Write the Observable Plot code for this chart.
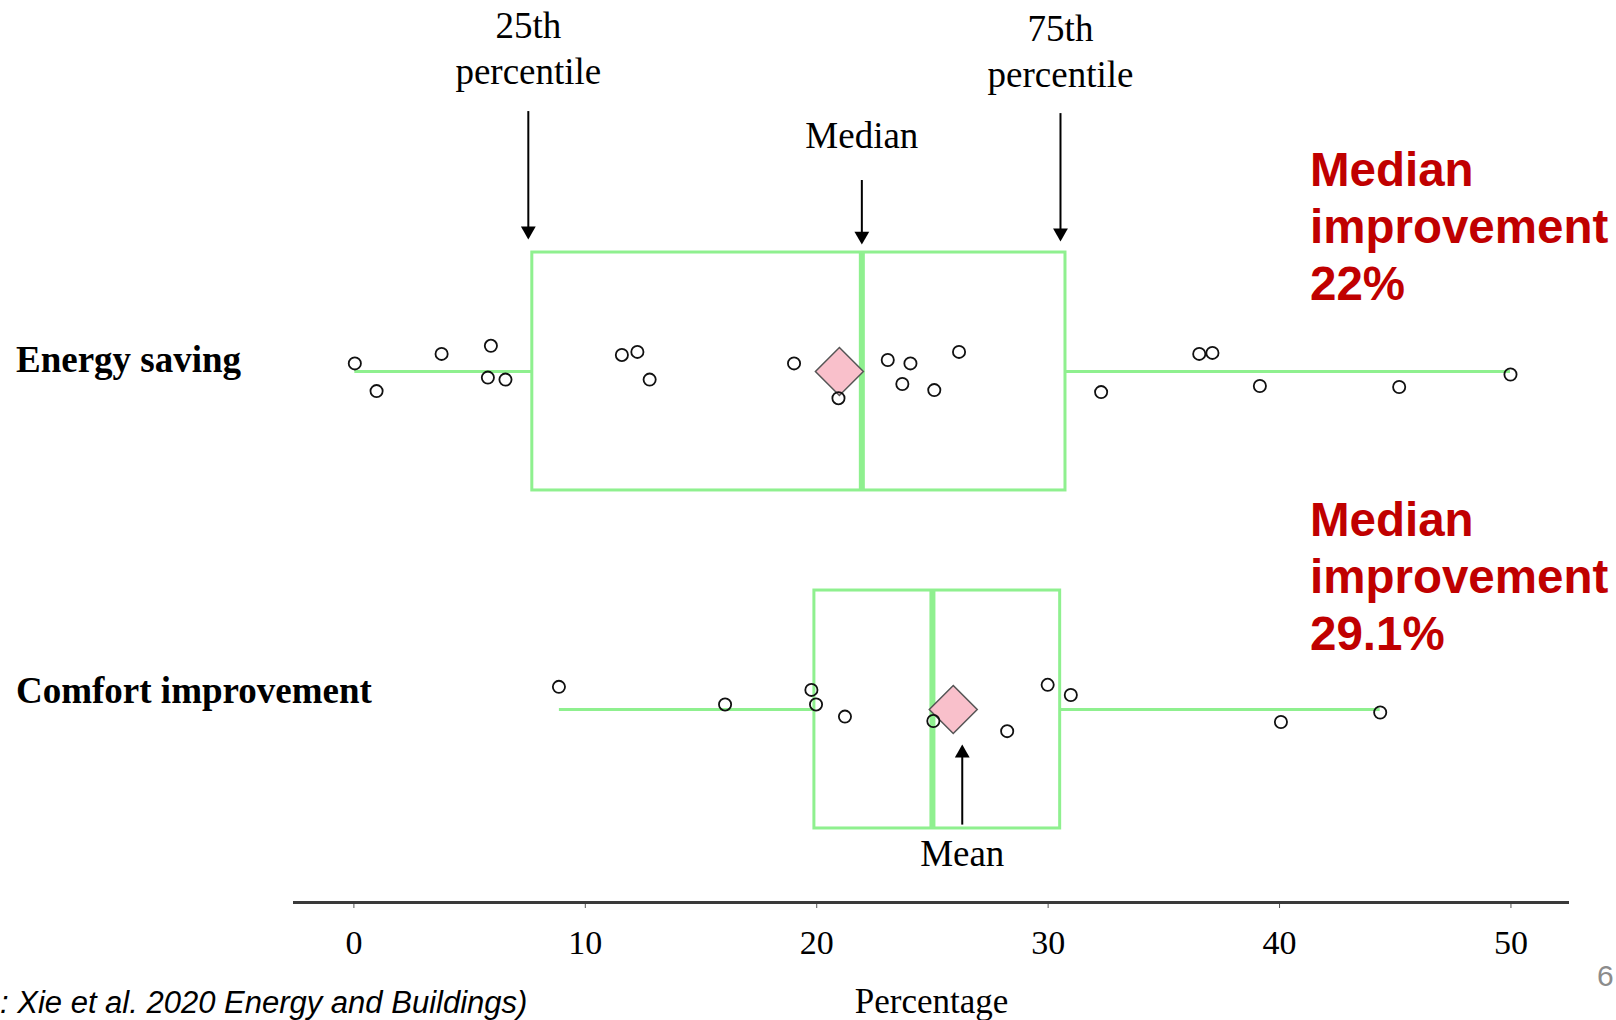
<!DOCTYPE html>
<html>
<head>
<meta charset="utf-8">
<script src="https://cdn.jsdelivr.net/npm/d3@7"></script>
<script src="https://cdn.jsdelivr.net/npm/@observablehq/plot@0.6"></script>
<style>
  html, body { margin: 0; padding: 0; background: #fff; overflow: hidden; }
  #wrap { position: relative; width: 1616px; height: 1020px; }
  #wrap svg { position: absolute; left: 0; top: 0; }
  .red { position: absolute; left: 1310px; font-family: "Liberation Sans", Arial, sans-serif; font-weight: bold;
         font-size: 47.5px; line-height: 57px; color: #c00000; white-space: nowrap; }
  .caption { position: absolute; left: 0px; top: 985px; font-family: "Liberation Sans", Arial, sans-serif;
             font-style: italic; font-size: 31px; line-height: 36px; color: #000; white-space: nowrap; }
  .pagenum { position: absolute; left: 1597px; top: 958px; font-family: "Liberation Sans", Arial, sans-serif;
             font-size: 30px; line-height: 36px; color: #8c8c8c; }
</style>
</head>
<body>
<div id="wrap"></div>
<script>
// ---------- data ----------
const categories = ["Energy saving", "Comfort improvement"];
const energyValues = [0.04, 0.98, 3.79, 5.92, 5.79, 6.55, 11.58, 12.25, 12.78, 19.02, 20.94,
                      23.07, 24.05, 23.70, 25.08, 26.15, 32.29, 36.53, 37.10, 39.15, 45.17, 49.98];
const energyJitter = [-0.024, 0.058, -0.052, -0.076, 0.018, 0.024, -0.049, -0.058, 0.024, -0.024, 0.079,
                      -0.034, -0.024, 0.037, 0.055, -0.058, 0.061, -0.052, -0.055, 0.043, 0.046, 0.009];
const comfortValues = [8.86, 16.04, 19.77, 19.97, 21.22, 25.04, 28.23, 29.98, 30.98, 40.06, 44.35];
const comfortJitter = [-0.067, -0.015, -0.058, -0.015, 0.021, 0.034, 0.064, -0.073, -0.043, 0.037, 0.009];
const q1 = [7.71, 19.90];
const medians = [21.95, 25.00];
const q3 = [30.75, 30.52];
const means = [20.98, 25.90];
const whiskerLow = [0.04, 8.88];
const whiskerHigh = [49.98, 44.35];
const xTicks = [0, 10, 20, 30, 40, 50];
const xLabel = "Percentage";
const annotationLabels = ["25th\npercentile", "Median", "75th\npercentile", "Mean"];
const sideNotes = ["Median\nimprovement\n22%", "Median\nimprovement\n29.1%"];
const captionText = ": Xie et al. 2020 Energy and Buildings)";
const pageNumber = "6";

// ---------- derived tables ----------
const rows = categories.map((name, i) => ({
  name, i, q1: q1[i], median: medians[i], q3: q3[i], mean: means[i], lo: whiskerLow[i], hi: whiskerHigh[i]
}));
const points = [
  ...energyValues.map((v, j) => ({ value: v, row: 0 + energyJitter[j] })),
  ...comfortValues.map((v, j) => ({ value: v, row: 1 + comfortJitter[j] }))
];

// ---------- styling ----------
const BOX = 0.352;           // half box height (row units)
const GREEN = "#8ff08f";
const SERIF = '"Liberation Serif", "Times New Roman", Times, serif';
const yDomain = [1.571, -1.0976];
const TIP = 8.5;             // triangle tip offset in px
const LIFT = 0.009;          // small upward nudge for annotation labels

function annotation(x, dx, textY, label, yStart, yTip, down) {
  const gap = 0.02;
  return [
    Plot.text([label], { x: () => x, y: () => textY - LIFT, text: d => d, dx, fontSize: 37, lineHeight: 1.24,
                         fontFamily: SERIF, fill: "#000" }),
    Plot.ruleX([x], { x: d => d, y1: () => yStart, y2: () => (down ? yTip - gap : yTip + gap), dx,
                      stroke: "#000", strokeWidth: 2 }),
    Plot.dot([x], { x: d => d, y: () => yTip, dx, dy: down ? -TIP : TIP, symbol: "triangle",
                    rotate: down ? 180 : 0, r: 5.5, fill: "#000", stroke: "none" })
  ];
}

const chart = Plot.plot({
  width: 1616,
  height: 1020,
  marginLeft: 293,
  marginRight: 47,
  marginTop: 0,
  marginBottom: 118,
  style: { fontFamily: SERIF, background: "transparent", color: "#000", overflow: "visible" },
  x: { domain: [-2.61, 52.53] },
  y: { domain: yDomain, axis: null },
  marks: [
    Plot.axisX({ ticks: xTicks, tickSize: 6, tickPadding: 21, fontSize: 34, stroke: "#555",
                 tickFormat: d => String(d), label: null, fontFamily: SERIF }),
    Plot.ruleY([yDomain[0]], { stroke: "#3a3a3a", strokeWidth: 3 }),
    Plot.text([xLabel], { frameAnchor: "bottom", dy: 110, fontSize: 35, fontFamily: SERIF }),
    Plot.text(rows.filter(d => d.i === 0), { frameAnchor: "left", y: "i", text: "name", textAnchor: "start",
                      dx: -277.5, dy: -11, fontSize: 37, fontWeight: "bold", fontFamily: SERIF }),
    Plot.text(rows.filter(d => d.i === 1), { frameAnchor: "left", y: "i", text: "name", textAnchor: "start",
                      dx: -277.5, dy: -18, fontSize: 37, fontWeight: "bold", fontFamily: SERIF }),
    // boxes
    Plot.rect(rows, { x1: "q1", x2: "q3", y1: d => d.i - BOX, y2: d => d.i + BOX,
                      fill: "none", stroke: GREEN, strokeWidth: 3 }),
    Plot.ruleY(rows, { y: "i", x1: "lo", x2: "q1", stroke: GREEN, strokeWidth: 3 }),
    Plot.ruleY(rows, { y: "i", x1: "q3", x2: "hi", stroke: GREEN, strokeWidth: 3 }),
    Plot.ruleX(rows, { x: "median", y1: d => d.i - BOX, y2: d => d.i + BOX, stroke: GREEN, strokeWidth: 6 }),
    // means
    Plot.dot(rows, { x: "mean", y: "i", symbol: "diamond2", r: 21.6, fill: "#f9c0cb", stroke: "#555", strokeWidth: 1.5 }),
    // observations
    Plot.dot(points, { x: "value", y: "row", r: 6.1, fill: "none", stroke: "#111", strokeWidth: 1.8 }),
    // annotations
    ...annotation(q1[0], -4, -0.953, annotationLabels[0], -0.769, -0.391, true),
    ...annotation(medians[0], 0, -0.695, annotationLabels[1], -0.565, -0.376, true),
    ...annotation(q3[0], -5, -0.945, annotationLabels[2], -0.763, -0.385, true),
    ...annotation(means[1], 9, 1.429, annotationLabels[3], 1.342, 1.104, false)
  ]
});

const wrap = document.getElementById("wrap");
wrap.appendChild(chart);

const noteTops = [141, 491];
sideNotes.forEach((t, k) => {
  const d = document.createElement("div");
  d.className = "red";
  d.style.top = noteTops[k] + "px";
  d.innerHTML = t.split("\n").map(s => `<div>${s}</div>`).join("");
  wrap.appendChild(d);
});
const cap = document.createElement("div");
cap.className = "caption";
cap.textContent = captionText;
wrap.appendChild(cap);
const pn = document.createElement("div");
pn.className = "pagenum";
pn.textContent = pageNumber;
wrap.appendChild(pn);
</script>
</body>
</html>
